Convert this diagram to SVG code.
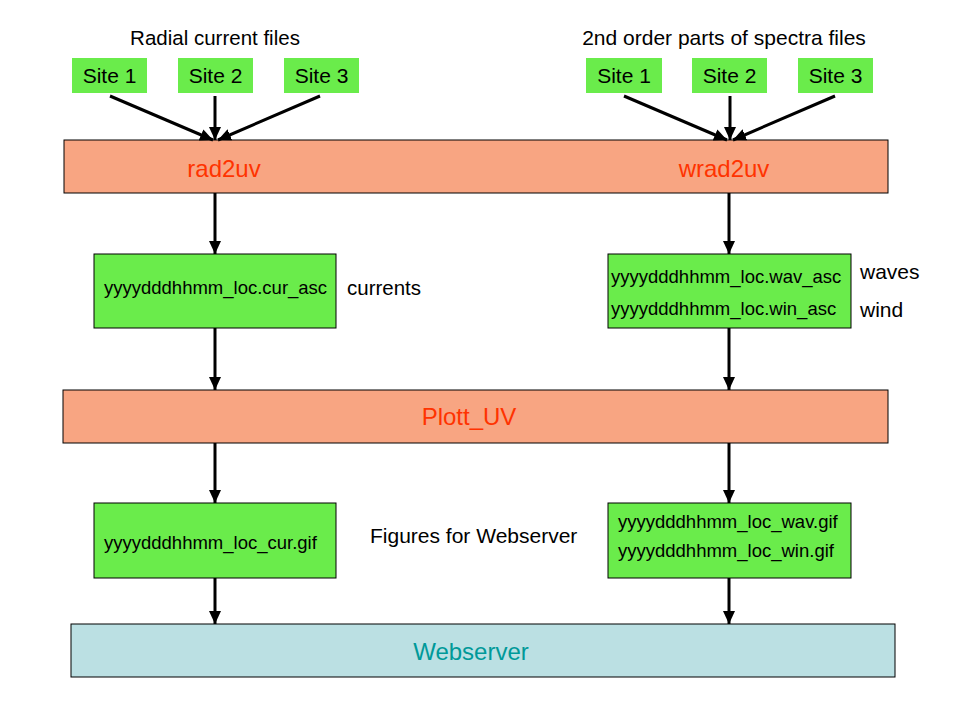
<svg xmlns="http://www.w3.org/2000/svg" width="960" height="720" viewBox="0 0 960 720">
<defs>
<marker id="ah" markerUnits="userSpaceOnUse" markerWidth="14" markerHeight="12" refX="13" refY="6" orient="auto">
<path d="M0,0 L13,6 L0,12 Z" fill="#000"/>
</marker>
<style>
text{font-family:"Liberation Sans",Arial,sans-serif;fill:#000}
.site{fill:#6aec4b}
.file{fill:#6aec4b;stroke:#000;stroke-width:1}
.proc{fill:#f8a582;stroke:#000;stroke-width:1}
.web{fill:#bbe0e3;stroke:#000;stroke-width:1}
.t21{font-size:21px}
.t20{font-size:20.5px}
.t15{font-size:18.5px}
.ptxt{font-size:24px;fill:#ff3300}
.wtxt{font-size:24px;fill:#009999}
.c line{stroke:#000;stroke-width:3;marker-end:url(#ah)}
</style>
</defs>
<rect width="960" height="720" fill="#fff"/>
<text class="t20" x="215" y="45" text-anchor="middle">Radial current files</text>
<text class="t21" x="724" y="45" text-anchor="middle">2nd order parts of spectra files</text>
<g id="l-site1"><rect class="site" x="72" y="58" width="75" height="35"/><text class="t21" x="109.5" y="83" text-anchor="middle">Site 1</text></g>
<g id="l-site2"><rect class="site" x="178" y="58" width="75" height="35"/><text class="t21" x="215.5" y="83" text-anchor="middle">Site 2</text></g>
<g id="l-site3"><rect class="site" x="284" y="58" width="75" height="35"/><text class="t21" x="321.5" y="83" text-anchor="middle">Site 3</text></g>
<g id="r-site1"><rect class="site" x="586" y="58" width="76" height="35"/><text class="t21" x="624" y="83" text-anchor="middle">Site 1</text></g>
<g id="r-site2"><rect class="site" x="692" y="58" width="75" height="35"/><text class="t21" x="729.5" y="83" text-anchor="middle">Site 2</text></g>
<g id="r-site3"><rect class="site" x="798" y="58" width="75" height="35"/><text class="t21" x="835.5" y="83" text-anchor="middle">Site 3</text></g>
<g id="rad2uv"><rect class="proc" x="64" y="140" width="824" height="53"/><text class="ptxt" x="224" y="177" text-anchor="middle">rad2uv</text><text class="ptxt" x="724" y="177" text-anchor="middle">wrad2uv</text></g>
<g id="cur-asc"><rect class="file" x="94" y="254" width="242" height="74"/><text class="t15" x="104" y="294">yyyydddhhmm_loc.cur_asc</text></g>
<text class="t20" x="347" y="295">currents</text>
<g id="wav-asc"><rect class="file" x="608" y="254" width="243" height="74"/><text class="t15" x="611" y="283">yyyydddhhmm_loc.wav_asc</text><text class="t15" x="611" y="315">yyyydddhhmm_loc.win_asc</text></g>
<text class="t21" x="860" y="279">waves</text>
<text class="t21" x="860" y="317">wind</text>
<g id="plott"><rect class="proc" x="63" y="390" width="825" height="53"/><text class="ptxt" x="469" y="425" text-anchor="middle">Plott_UV</text></g>
<g id="cur-gif"><rect class="file" x="94" y="503" width="242" height="75"/><text class="t15" x="104" y="549">yyyydddhhmm_loc_cur.gif</text></g>
<text class="t21" x="370" y="543">Figures for Webserver</text>
<g id="wav-gif"><rect class="file" x="608" y="503" width="243" height="75"/><text class="t15" x="618" y="528">yyyydddhhmm_loc_wav.gif</text><text class="t15" x="618" y="557">yyyydddhhmm_loc_win.gif</text></g>
<g id="webserver"><rect class="web" x="71" y="624" width="824" height="53"/><text class="wtxt" x="471" y="660" text-anchor="middle">Webserver</text></g>
<g id="connectors" class="c">
<line x1="110" y1="96" x2="213" y2="140"/>
<line x1="215" y1="96" x2="215" y2="140"/>
<line x1="320" y1="96" x2="218" y2="140"/>
<line x1="624" y1="96" x2="727" y2="140"/>
<line x1="730" y1="96" x2="730" y2="140"/>
<line x1="835" y1="96" x2="733" y2="140"/>
<line x1="215" y1="193" x2="215" y2="254"/>
<line x1="729" y1="193" x2="729" y2="254"/>
<line x1="215" y1="328" x2="215" y2="390"/>
<line x1="729" y1="328" x2="729" y2="390"/>
<line x1="215" y1="443" x2="215" y2="503"/>
<line x1="729" y1="443" x2="729" y2="503"/>
<line x1="215" y1="578" x2="215" y2="624"/>
<line x1="729" y1="578" x2="729" y2="624"/>
</g>
</svg>
